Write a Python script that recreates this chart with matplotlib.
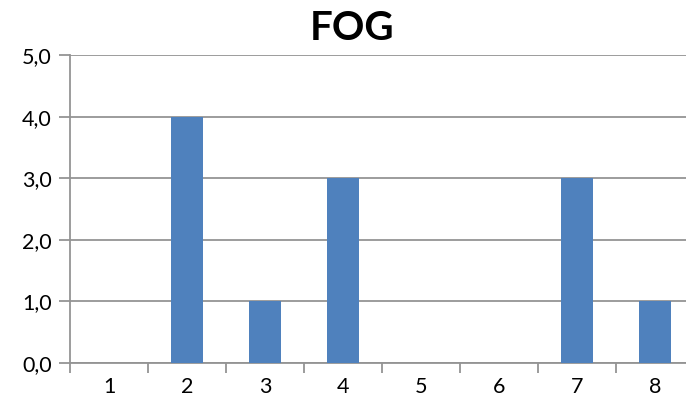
import matplotlib
matplotlib.use("Agg")
import matplotlib.pyplot as plt
import numpy as np

categories = ["1", "2", "3", "4", "5", "6", "7", "8"]
values = [0, 4, 1, 3, 0, 0, 3, 1]
yticks = [0, 1, 2, 3, 4, 5]
ytick_labels = ["0,0", "1,0", "2,0", "3,0", "4,0", "5,0"]
title = "FOG"

plt.rcParams['font.family'] = ['Lato', 'DejaVu Sans']

W, H = 686, 408
fig = plt.figure(figsize=(W/100, H/100), dpi=100)
ax = fig.add_axes([70/W, 45/H, 624/W, 308/H])

x = np.arange(len(categories))
ax.bar(x, values, width=0.4, color="#4F81BD", zorder=3)
ax.set_xlim(-0.5, len(categories) - 0.5)
ax.set_ylim(0, 5)

grid_c = "#949494"
ax.set_yticks(yticks)
ax.set_yticklabels(ytick_labels, fontsize=15.5, color="black")
ax.yaxis.grid(True, color=grid_c, linewidth=1.3, zorder=0)
ax.tick_params(axis='y', length=8, color=grid_c, width=1.3, pad=5)

ax.set_xticks(x)
ax.set_xticklabels(categories, fontsize=15.5, color="black")
ax.set_xticks(np.arange(len(categories) + 1) - 0.5, minor=True)
ax.tick_params(axis='x', which='major', length=0, pad=10)
ax.tick_params(axis='x', which='minor', length=7, color=grid_c, width=1.3)

for s in ['top', 'right']:
    ax.spines[s].set_visible(False)
for s in ['left', 'bottom']:
    ax.spines[s].set_color(grid_c)
    ax.spines[s].set_linewidth(1.3)

fig.text(352/W, 1 - 28/H, title, fontsize=29, fontweight='bold', ha='center', va='center')

fig.savefig("out.png", dpi=100)
